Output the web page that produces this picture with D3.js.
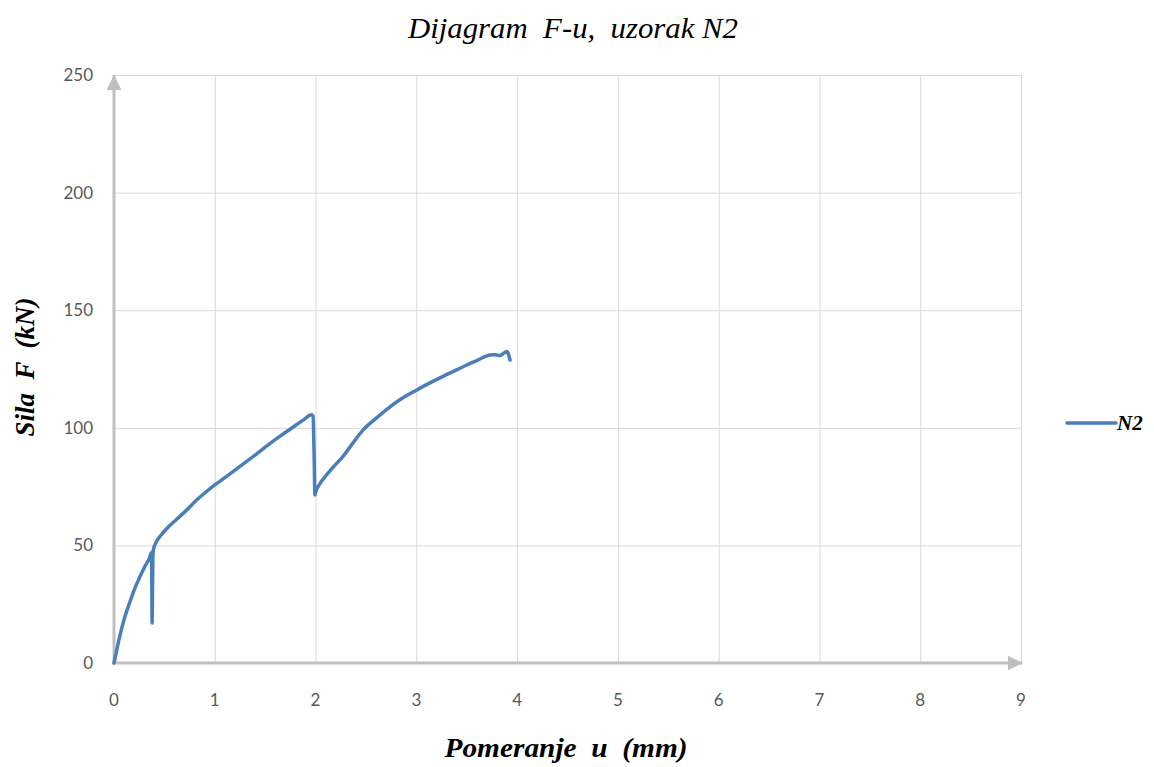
<!DOCTYPE html>
<html><head><meta charset="utf-8">
<script src="https://cdn.jsdelivr.net/npm/d3@7"></script>
<style>body{margin:0;background:#fff}svg{display:block}text{white-space:pre}</style>
</head><body>
<svg id="c" width="1154" height="767"></svg>
<script>
const title = "Dijagram  F-u,  uzorak N2";
const xTitle = "Pomeranje  u  (mm)";
const yTitle = "Sila  F  (kN)";
const seriesName = "N2";
const xTicks = [0,1,2,3,4,5,6,7,8,9];
const yTicks = [0,50,100,150,200,250];
const u = [0,0.02,0.05,0.10,0.15,0.20,0.25,0.30,0.35,0.372,0.375,0.378,0.382,0.386,0.39,0.42,0.46,0.52,0.62,0.72,0.82,0.91,1.0,1.1,1.2,1.3,1.4,1.5,1.6,1.7,1.8,1.9,1.944,1.96,1.975,1.985,1.994,2.0,2.04,2.1,2.18,2.275,2.37,2.47,2.6,2.72,2.84,3.0,3.13,3.27,3.4,3.5,3.62,3.73,3.78,3.83,3.87,3.9,3.915,3.93];
const F = [0,4,10,18.5,25,31,36,40.5,44.5,47,35,17,30,45,48,51.5,54,57,61,65,69.3,72.6,75.7,78.8,82,85.2,88.4,91.8,95,98,101,104,105.4,105.6,105,90,71.4,72.5,76,79.5,83.5,88,93.5,99,104,108.3,112,116,119,122,124.6,126.7,129,131,131.1,130.7,131.8,132.4,131.2,128.8];

const svg = d3.select("#c");
const x = d3.scaleLinear().domain([0,9]).range([114,1021]);
const y = d3.scaleLinear().domain([0,250]).range([663,75]);

svg.append("g").selectAll("line").data(yTicks.filter(d=>d>0)).join("line")
  .attr("x1",x(0)).attr("x2",x(9)).attr("y1",d=>y(d)+0.5).attr("y2",d=>y(d)+0.5)
  .attr("stroke","#d9d9d9").attr("stroke-width",1);
svg.append("g").selectAll("line").data(xTicks.filter(d=>d>0)).join("line")
  .attr("x1",d=>x(d)+0.5).attr("x2",d=>x(d)+0.5).attr("y1",y(0)).attr("y2",y(250))
  .attr("stroke","#d9d9d9").attr("stroke-width",1);

const defs = svg.append("defs");
defs.append("marker").attr("id","arr").attr("viewBox","0 0 10 10").attr("refX",10).attr("refY",5)
  .attr("markerWidth",5).attr("markerHeight",5).attr("markerUnits","strokeWidth").attr("orient","auto")
  .append("path").attr("d","M0,0 L10,5 L0,10 Z").attr("fill","#bfbfbf");
svg.append("line").attr("x1",x(0)).attr("x2",x(0)).attr("y1",y(0)+1.5).attr("y2",y(250))
  .attr("stroke","#bfbfbf").attr("stroke-width",3).attr("marker-end","url(#arr)");
svg.append("line").attr("x1",x(0)-1.5).attr("x2",x(9)+1.5).attr("y1",y(0)).attr("y2",y(0))
  .attr("stroke","#bfbfbf").attr("stroke-width",3).attr("marker-end","url(#arr)");

svg.append("g").selectAll("text").data(yTicks).join("text")
  .attr("x",93).attr("y",d=>y(d)+6).attr("text-anchor","end")
  .attr("font-family","Lato, 'Open Sans', sans-serif").attr("font-size",17).attr("fill","#595959")
  .text(d=>d);
svg.append("g").selectAll("text").data(xTicks).join("text")
  .attr("x",d=>x(d)).attr("y",706).attr("text-anchor","middle")
  .attr("font-family","Lato, 'Open Sans', sans-serif").attr("font-size",17).attr("fill","#595959")
  .text(d=>d);

const pts = u.map((d,i)=>[d,F[i]]);
svg.append("path").datum(pts)
  .attr("d",d3.line().curve(d3.curveMonotoneX).x(d=>x(d[0])).y(d=>y(d[1])))
  .attr("fill","none").attr("stroke","#4a7ebb").attr("stroke-width",3.5)
  .attr("stroke-linejoin","round").attr("stroke-linecap","round");

svg.append("text").attr("x",573).attr("y",38).attr("text-anchor","middle")
  .attr("font-family","'Liberation Serif', serif").attr("font-style","italic").attr("font-size",30)
  .attr("textLength",330).attr("lengthAdjust","spacingAndGlyphs").attr("fill","#000").text(title);
svg.append("text").attr("x",566).attr("y",757).attr("text-anchor","middle")
  .attr("font-family","'Liberation Serif', serif").attr("font-style","italic").attr("font-weight","bold")
  .attr("font-size",27).attr("textLength",243).attr("lengthAdjust","spacingAndGlyphs")
  .attr("fill","#000").text(xTitle);
svg.append("text").attr("transform","translate(34,367) rotate(-90)").attr("text-anchor","middle")
  .attr("font-family","'Liberation Serif', serif").attr("font-style","italic").attr("font-weight","bold")
  .attr("font-size",27).attr("fill","#000").text(yTitle);

svg.append("line").attr("x1",1067).attr("x2",1116).attr("y1",423).attr("y2",423)
  .attr("stroke","#4a7ebb").attr("stroke-width",3.5).attr("stroke-linecap","round");
svg.append("text").attr("x",1117).attr("y",430)
  .attr("font-family","'Liberation Serif', serif").attr("font-style","italic").attr("font-weight","bold")
  .attr("font-size",21).attr("fill","#000").text(seriesName);
</script>
</body></html>
